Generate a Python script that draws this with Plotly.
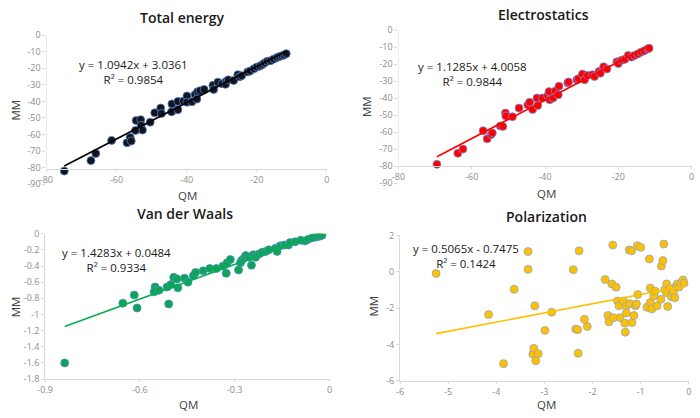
import plotly.graph_objects as go

# ---------------- data ----------------
# Total energy
te_qm = [-74.9, -67.3, -65.9, -61.4, -57.0, -56.1, -55.8, -54.4, -53.1, -53.0, -52.6, -54.6,
         -50.4, -49.1, -47.4, -47.2, -44.3, -44.2, -42.5, -42.5, -40.9, -39.9, -39.9, -38.5,
         -37.6, -37.1, -36.9, -36.2, -35.0, -32.5, -32.3, -31.1, -29.9, -28.7, -28.9, -28.1,
         -26.6, -25.4, -24.9, -24.3, -22.6, -21.9, -20.8, -20.0, -19.1, -18.4, -17.8, -17.0,
         -16.1, -15.2, -14.2, -13.5, -12.8, -12.2, -11.6]
te_mm = [-82.0, -75.7, -71.4, -63.5, -64.9, -61.8, -63.9, -51.5, -51.0, -54.4, -57.3, -57.5,
         -52.5, -46.9, -44.0, -47.3, -46.3, -41.5, -40.0, -45.0, -39.8, -36.7, -40.5, -40.2,
         -35.9, -38.6, -34.2, -33.6, -32.8, -30.3, -32.8, -28.4, -29.3, -27.8, -29.7, -27.0,
         -27.4, -23.9, -25.1, -24.5, -22.2, -21.6, -20.3, -19.3, -18.7, -17.8, -16.8, -15.8,
         -15.4, -14.5, -13.5, -12.9, -12.4, -12.0, -11.2]

# Electrostatics
el_qm = [-69.5, -63.8, -62.4, -56.9, -55.8, -54.7, -54.4, -52.2, -51.5, -50.8, -50.7, -48.9,
         -47.1, -44.7, -44.2, -43.4, -42.2, -42.0, -40.7, -39.3, -38.9, -38.7, -37.8, -37.2,
         -36.4, -36.2, -33.8, -33.6, -31.3, -30.9, -29.8, -29.2, -28.4, -27.1, -26.5, -25.3,
         -24.9, -24.0, -23.1, -20.4, -20.0, -19.1, -18.2, -17.3, -16.4, -15.6, -14.7, -13.8,
         -12.9, -12.0, -11.6]
el_mm = [-78.9, -72.4, -69.9, -59.1, -63.9, -61.4, -60.4, -56.3, -56.6, -48.7, -50.4, -50.9,
         -45.8, -43.9, -42.4, -46.6, -39.9, -44.3, -39.9, -38.6, -36.1, -40.9, -39.9, -35.7,
         -38.0, -32.9, -31.0, -30.4, -29.1, -28.5, -25.8, -29.1, -26.6, -26.2, -27.2, -24.3,
         -25.3, -21.5, -22.8, -18.6, -19.6, -17.7, -17.1, -14.8, -15.8, -14.8, -13.9, -12.9,
         -12.0, -11.0, -10.6]

# Van der Waals
vw_qm = [-0.838, -0.654, -0.618, -0.609, -0.552, -0.555, -0.540, -0.514, -0.509, -0.502,
         -0.493, -0.483, -0.480, -0.459, -0.448, -0.431, -0.424, -0.400, -0.379, -0.358,
         -0.337, -0.327, -0.324, -0.314, -0.288, -0.282, -0.278, -0.270, -0.265, -0.254,
         -0.247, -0.241, -0.234, -0.223, -0.213, -0.202, -0.192, -0.171, -0.166, -0.156,
         -0.143, -0.130, -0.125, -0.109, -0.091, -0.078, -0.067, -0.054, -0.042, -0.031, -0.024]
vw_mm = [-1.60, -0.86, -0.76, -0.92, -0.66, -0.72, -0.70, -0.66, -0.87, -0.63,
         -0.54, -0.56, -0.67, -0.55, -0.60, -0.52, -0.48, -0.46, -0.43, -0.43,
         -0.40, -0.49, -0.36, -0.32, -0.45, -0.36, -0.33, -0.30, -0.27, -0.29,
         -0.39, -0.26, -0.29, -0.25, -0.23, -0.22, -0.20, -0.18, -0.22, -0.15,
         -0.14, -0.14, -0.11, -0.10, -0.08, -0.09, -0.07, -0.05, -0.04, -0.03, -0.02]

# Polarization
po_qm = [-5.25, -4.16, -3.85, -3.63, -3.34, -3.34, -3.24, -3.22, -3.20, -3.18, -3.13, -2.99,
         -2.85, -2.40, -2.35, -2.31, -2.30, -2.28, -2.17, -2.11, -1.74, -1.68, -1.66, -1.60,
         -1.58, -1.57, -1.51, -1.48, -1.45, -1.43, -1.36, -1.33, -1.32, -1.30, -1.30, -1.24,
         -1.23, -1.19, -1.18, -1.14, -1.11, -1.09, -1.07, -1.06, -1.00, -0.87, -0.82, -0.80,
         -0.80, -0.77, -0.73, -0.70, -0.66, -0.58, -0.57, -0.54, -0.52, -0.50, -0.46, -0.46,
         -0.44, -0.39, -0.36, -0.32, -0.29, -0.26, -0.24, -0.20, -0.16, -0.12, -0.10]
po_mm = [-0.10, -2.36, -5.06, -0.97, 1.11, 0.13, -4.54, -4.22, -1.88, -4.90, -4.51, -3.23,
         -2.23, 0.11, -3.16, -3.19, -4.49, 1.15, -2.62, -3.01, -0.43, -2.41, -2.76, -0.67,
         1.47, -2.53, -0.85, -1.61, -1.88, -2.53, -1.61, -2.84, -3.33, -1.88, -2.27, 1.20,
         -1.76, 1.15, -2.80, -2.41, -1.88, -1.77, 1.43, -1.25, 1.34, -1.96, 0.70, -0.90,
         -1.70, -2.05, -1.34, -1.07, -1.88, -1.52, 0.31, 0.61, 1.52, -0.99, -0.67, -1.16,
         -1.91, -0.93, -1.38, -1.11, -1.43, -0.79, -0.67, -0.84, -0.63, -0.45, -0.63]

# trendline coefficients (as printed on the chart)
te_fit = (1.0942, 3.0361, 0.9854)
el_fit = (1.1285, 4.0058, 0.9844)
vw_fit = (1.4283, 0.0484, 0.9334)
po_fit = (0.5065, -0.7475, 0.1424)

titles = ["Total energy", "Electrostatics", "Van der Waals", "Polarization"]

# tick values / labels
te_xticks = [-80, -60, -40, -20, 0]
te_yticks = [0, -10, -20, -30, -40, -50, -60, -70, -80, -90]
vw_xticks = [-0.9, -0.6, -0.3, 0]
vw_yticks = [0, -0.2, -0.4, -0.6, -0.8, -1, -1.2, -1.4, -1.6, -1.8]
po_xticks = [-6, -5, -4, -3, -2, -1, 0]
po_yticks = [2, 0, -2, -4, -6]


def lbl(v):
    return ("%g" % v)


FONT = "Open Sans"
W, H = 700, 418


def px_x(p):
    return p / W


def px_y(p):
    return 1 - p / H


fig = go.Figure()

panels = [
    dict(qm=te_qm, mm=te_mm, fit=te_fit, fill="#141420", edge="#4f7fc4", line="#000000",
         xr=[-80, 0], yr=[-90, 0], xt=te_xticks, yt=te_yticks,
         dom_x=[39, 324], dom_y=[29, 183], xaxis_at=167, title=(177, 11),
         eq=(128, 67), qm_lbl=(182, 195), mm_lbl=(8, 106)),
    dict(qm=el_qm, mm=el_mm, fit=el_fit, fill="#ff0000", edge="#6f8fd8", line="#ff0000",
         xr=[-80, 0], yr=[-90, 0], xt=te_xticks, yt=te_yticks,
         dom_x=[396.7, 694.5], dom_y=[24, 181.9], xaxis_at=164.3, title=(544, 8),
         eq=(472, 69), qm_lbl=(547, 193), mm_lbl=(365, 103)),
    dict(qm=vw_qm, mm=vw_mm, fit=vw_fit, fill="#0ea552", edge="#4a8fc4", line="#00b050",
         xr=[-0.9, 0], yr=[-1.8, 0], xt=vw_xticks, yt=vw_yticks,
         dom_x=[37.7, 326.7], dom_y=[234, 384], xaxis_at=None, title=(180, 213),
         eq=(110, 261), qm_lbl=(183, 410), mm_lbl=(7, 309)),
    dict(qm=po_qm, mm=po_mm, fit=po_fit, fill="#ffc000", edge="#8fa6c4", line="#ffc000",
         xr=[-6, 0], yr=[-6, 2], xt=po_xticks, yt=po_yticks,
         dom_x=[398.3, 691.7], dom_y=[235.7, 385.7], xaxis_at=None, title=(547, 216),
         eq=(465, 257), qm_lbl=(547, 410), mm_lbl=(371, 309)),
]

annotations = []
shapes = []
AXIS_GRAY = "#d9d9d9"
TICK_COLOR = "#8c8c8c"

for i, p in enumerate(panels, start=1):
    xa = "x" if i == 1 else f"x{i}"
    ya = "y" if i == 1 else f"y{i}"
    slope, icpt, r2 = p["fit"]
    fig.add_trace(go.Scatter(
        x=p["qm"], y=p["mm"], mode="markers", xaxis=xa, yaxis=ya, showlegend=False,
        marker=dict(size=8, color=p["fill"], line=dict(color=p["edge"], width=0.8)),
    ))
    x0, x1 = min(p["qm"]), max(p["qm"])
    fig.add_trace(go.Scatter(
        x=[x0, x1], y=[slope * x0 + icpt, slope * x1 + icpt], mode="lines",
        xaxis=xa, yaxis=ya, showlegend=False,
        line=dict(color=p["line"], width=1.6),
    ))

    dx = [px_x(p["dom_x"][0]), px_x(p["dom_x"][1])]
    dy = [px_y(p["dom_y"][1]), px_y(p["dom_y"][0])]
    xkey = "xaxis" if i == 1 else f"xaxis{i}"
    ykey = "yaxis" if i == 1 else f"yaxis{i}"
    xaxis = dict(domain=dx, range=p["xr"], tickvals=p["xt"], ticktext=[lbl(v) for v in p["xt"]],
                 showgrid=False, zeroline=False, showline=True, linecolor=AXIS_GRAY, linewidth=1,
                 ticks="outside", ticklen=2, tickcolor=AXIS_GRAY,
                 tickfont=dict(family=FONT, size=9, color=TICK_COLOR), fixedrange=True)
    if p["xaxis_at"] is not None:
        xaxis.update(anchor="free", position=px_y(p["xaxis_at"]))
    else:
        xaxis.update(anchor=ya)
    yaxis = dict(domain=dy, range=p["yr"], tickvals=p["yt"], ticktext=[lbl(v) for v in p["yt"]],
                 anchor=xa, showgrid=False, zeroline=False,
                 showline=p["xaxis_at"] is None, linecolor=AXIS_GRAY, linewidth=1,
                 ticks="outside", ticklen=3, tickcolor=AXIS_GRAY,
                 tickfont=dict(family=FONT, size=9, color=TICK_COLOR), fixedrange=True)
    fig.update_layout({xkey: xaxis, ykey: yaxis})
    if p["xaxis_at"] is not None:
        # vertical axis line only down to where the horizontal axis crosses
        shapes.append(dict(type="line", xref=xa, yref=ya, x0=p["xr"][0], x1=p["xr"][0],
                           y0=p["yr"][1], y1=te_yticks[-2], line=dict(color=AXIS_GRAY, width=1)))

    annotations.append(dict(text=titles[i - 1], xref="paper", yref="paper",
                            x=px_x(p["title"][0]), y=px_y(p["title"][1]), showarrow=False,
                            xanchor="center", yanchor="middle",
                            font=dict(family=FONT, size=14, color="#1a1a1a", weight=600)))
    eq_text = (f"y = {slope:.4f}x {'+' if icpt >= 0 else '-'} {abs(icpt):.4f}"
               f"<br>R² = {r2:.4f}")
    annotations.append(dict(text=eq_text, xref="paper", yref="paper", align="center",
                            x=px_x(p["eq"][0]), y=px_y(p["eq"][1]), showarrow=False,
                            xanchor="center", yanchor="middle",
                            font=dict(family=FONT, size=11.5, color="#1a1a1a")))
    annotations.append(dict(text="QM", xref="paper", yref="paper",
                            x=px_x(p["qm_lbl"][0]), y=px_y(p["qm_lbl"][1]), showarrow=False,
                            xanchor="center", yanchor="middle",
                            font=dict(family=FONT, size=11.5, color="#404040")))
    annotations.append(dict(text="MM", xref="paper", yref="paper", textangle=-90,
                            x=px_x(p["mm_lbl"][0]), y=px_y(p["mm_lbl"][1]), showarrow=False,
                            xanchor="center", yanchor="middle",
                            font=dict(family=FONT, size=11.5, color="#404040")))

fig.update_layout(
    width=W, height=H, margin=dict(l=0, r=0, t=0, b=0),
    paper_bgcolor="white", plot_bgcolor="white",
    annotations=annotations, shapes=shapes,
    font=dict(family=FONT),
)

fig.write_html("out.html", config={"displayModeBar": False},
               post_script="document.body.style.margin='0';document.body.style.padding='0';")
